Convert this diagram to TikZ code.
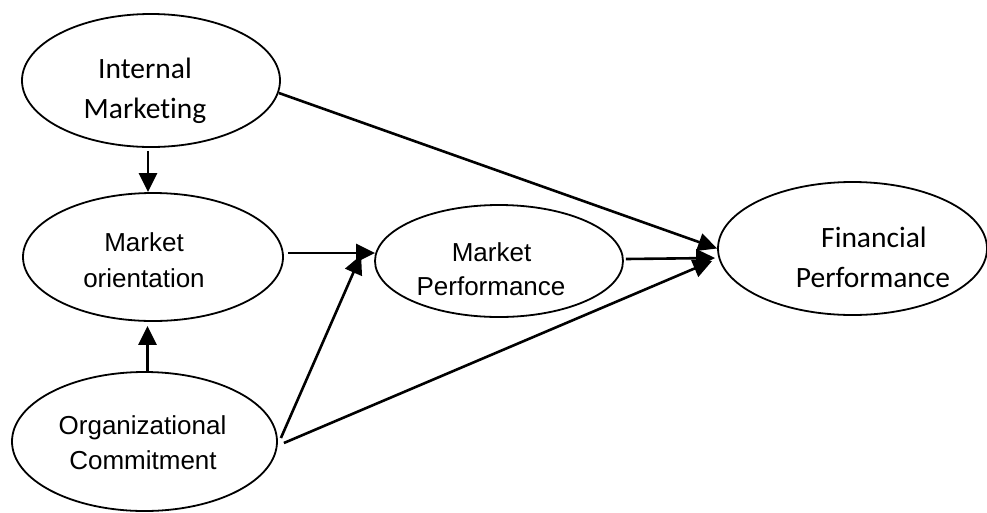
\documentclass[tikz,border=0pt]{standalone}
\usepackage{fontspec}
\setmainfont{Liberation Sans}
\newfontfamily\calib[Ligatures={NoCommon}]{Carlito}
\usetikzlibrary{shapes.geometric,arrows.meta}
\begin{document}
\begin{tikzpicture}[x=1pt,y=-1pt,
  oval/.style={draw,ellipse,line width=1.8pt,inner sep=0pt},
  arr/.style={line width=2.6pt,-{Triangle[length=19pt,width=18pt]}},
  lblA/.style={anchor=base,inner sep=0pt,font=\fontsize{26}{30}\selectfont},
  lblC/.style={anchor=base,inner sep=0pt,font=\calib\fontsize{29.5}{34}\selectfont}]
\useasboundingbox (0,0) rectangle (987,512);
\node[oval,minimum width=258pt,minimum height=133pt] (im) at (151,80.5) {};
\node[oval,minimum width=260pt,minimum height=128pt] (mo) at (153,257) {};
\node[oval,minimum width=265pt,minimum height=139pt] (oc) at (144.5,441.5) {};
\node[oval,minimum width=248pt,minimum height=112pt] (mp) at (499,261) {};
\node[oval,minimum width=269pt,minimum height=133pt] (fp) at (852.5,248.5) {};
\node[lblC] (im1) at (145,78) {Internal};
\node[lblC] (im2) at (145,118) {Marketing};
\node[lblA] (mo1) at (144,251) {Market};
\node[lblA] (mo2) at (144,287) {orientation};
\node[lblA] (oc1) at (142.5,434) {Organizational};
\node[lblA] (oc2) at (143,469) {Commitment};
\node[lblA] (mp1) at (491.5,261) {Market};
\node[lblA] (mp2) at (491,295) {Performance};
\node[lblC] (fp1) at (874,247) {Financial};
\node[lblC] (fp2) at (873,287) {Performance};
\draw[arr] ([xshift=-3pt,yshift=-3pt]im.south) -- ([xshift=-5pt]mo.north);
\draw[arr] ([xshift=3pt]oc.north) -- ([xshift=-5.5pt,yshift=-4pt]mo.south);
\draw[arr] ([xshift=4pt,yshift=4pt]mo.east) -- ([xshift=1pt,yshift=8pt]mp.west);
\draw[arr] ([xshift=3pt,yshift=3.5pt]oc.east) -- ([xshift=-13pt,yshift=6pt]mp.west);
\draw[arr] ([xshift=-2pt,yshift=-12.5pt]im.east) -- (fp.west);
\draw[arr] ([xshift=2pt,yshift=2pt]mp.east) -- ([xshift=-2pt,yshift=-9.5pt]fp.west);
\draw[arr] ([xshift=6pt,yshift=-1.5pt]oc.east) -- ([xshift=-5pt,yshift=-12.5pt]fp.west);
\end{tikzpicture}
\end{document}
